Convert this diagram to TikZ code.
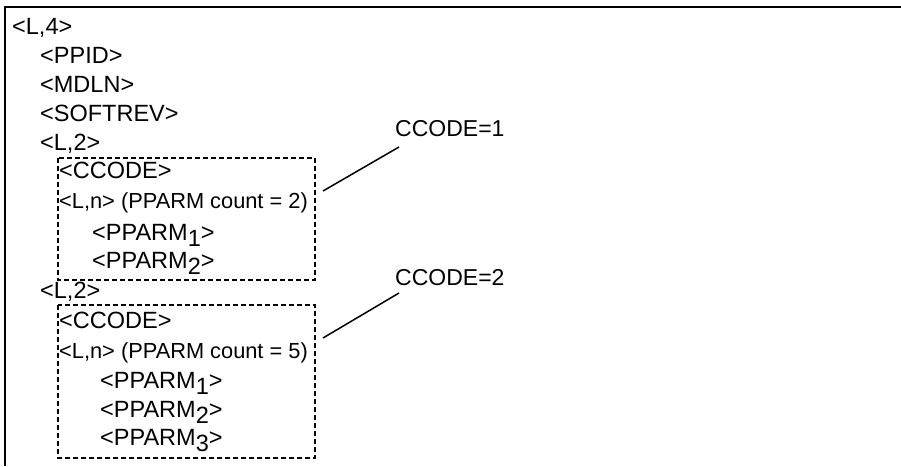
\documentclass[tikz,border=0pt]{standalone}
\usepackage{fontspec}
\setmainfont{Liberation Sans}
\tikzset{
  txt/.style={anchor=base west,inner sep=0pt,font=\fontsize{23.5}{28}\selectfont},
  txtl/.style={anchor=base west,inner sep=0pt,font=\fontsize{23}{28}\selectfont},
  txtn/.style={anchor=base west,inner sep=0pt,font=\fontsize{21.8}{26}\selectfont},
  frame/.style={line width=2pt},
  dbox/.style={line width=1.5pt,dash pattern=on 5pt off 3pt},
  lead/.style={line width=1.5pt}
}
\newcommand{\sbx}[1]{\raisebox{-6pt}{#1}}
\begin{document}
\begin{tikzpicture}[x=1pt,y=-1pt]
\useasboundingbox (0,0) rectangle (901,466);
\draw[frame] (5,466) -- (5,7) -- (901,7);
% outer lines
\node[txt] (l4) at (12,34) {<L,4>};
\node[txt] (ppid) at (40,63) {<PPID>};
\node[txt] (mdln) at (40,92) {<MDLN>};
\node[txt] (soft) at (40,121) {<SOFTREV>};
\node[txt] (l2a) at (40,150) {<L,2>};
% box 1
\draw[dbox] (58,158) rectangle (315,280);
\node[txt] (cc1) at (59,178) {<CCODE>};
\node[txtn] (ln1) at (59,208) {<L,n> (PPARM count = 2)};
\node[txt] (p11) at (92,240) {<PPARM\sbx{1}>};
\node[txt] (p12) at (92,268) {<PPARM\sbx{2}>};
% second list
\node[txt] (l2b) at (40,298) {<L,2>};
% box 2
\draw[dbox] (58,305) rectangle (315,458);
\node[txt] (cc2) at (59,328) {<CCODE>};
\node[txtn] (ln2) at (59,358) {<L,n> (PPARM count = 5)};
\node[txt] (p21) at (100,388) {<PPARM\sbx{1}>};
\node[txt] (p22) at (100,417) {<PPARM\sbx{2}>};
\node[txt] (p23) at (100,445) {<PPARM\sbx{3}>};
% labels
\node[txtl] (lab1) at (395,136) {CCODE=1};
\node[txtl] (lab2) at (395,285) {CCODE=2};
\coordinate (e1) at (323,191);
\coordinate (e2) at (323,338);
\draw[lead] (e1) -- ([xshift=4pt,yshift=-11pt]lab1.base west);
\draw[lead] (e2) -- ([xshift=4pt,yshift=-8pt]lab2.base west);
\end{tikzpicture}
\end{document}
